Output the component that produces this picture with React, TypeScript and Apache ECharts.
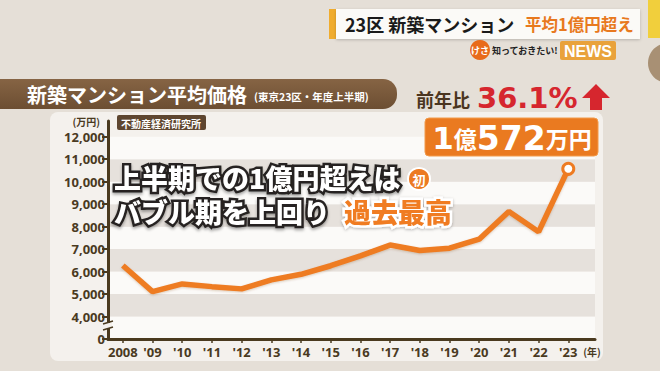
import React, { useEffect, useRef } from 'react';
import * as echarts from 'echarts';

// 新築マンション平均価格（東京23区・年度上半期）, 万円
const years = [2008, 2009, 2010, 2011, 2012, 2013, 2014, 2015, 2016, 2017, 2018, 2019, 2020, 2021, 2022, 2023];
const prices = [6270, 5110, 5450, 5330, 5230, 5630, 5880, 6260, 6700, 7180, 6940, 7040, 7440, 8670, 7768, 10572];
// axis is broken below 4,000: the bottom tick (3000 position) is labelled 0
const yTicks = [3000, 4000, 5000, 6000, 7000, 8000, 9000, 10000, 11000, 12000];
const yBreakValue = 3000;

const CJK = '"Noto Sans CJK JP", "Noto Sans", sans-serif';
const BROWN = '#4a3a1f';
const ORANGE = '#ee7b22';

export default function App() {
  const ref = useRef<HTMLDivElement>(null);
  useEffect(() => {
    document.body.style.margin = '0';
    const chart = echarts.init(ref.current!, null, { renderer: 'svg' });
    const last = years.length - 1;
    const data = years.map((y, i) =>
      i === last
        ? {
            value: [y, prices[i]],
            symbol: 'circle',
            symbolSize: 11,
            itemStyle: { color: '#ffffff', borderColor: ORANGE, borderWidth: 3 },
          }
        : [y, prices[i]]
    );
    const captionWhite = {
      fill: '#ffffff', stroke: '#262320', lineWidth: 5, fontSize: 27, fontWeight: 900, fontFamily: CJK, lineHeight: 34,
      textShadowColor: 'rgba(0,0,0,0.35)', textShadowBlur: 3, textShadowOffsetY: 2,
    };
    const option: any = {
      animation: false,
      backgroundColor: '#e5dfd7',
      grid: { left: 108, right: 65, top: 121, bottom: 32, outerBoundsMode: 'none' },
      xAxis: {
        type: 'value',
        min: 2007.5,
        max: 2023.9,
        splitLine: { show: false },
        axisLine: { show: true, onZero: false, lineStyle: { color: BROWN, width: 3 } },
        axisTick: { show: true, customValues: years, length: 4, lineStyle: { color: BROWN, width: 1.5 } },
        axisLabel: {
          customValues: years,
          color: BROWN,
          fontSize: 13,
          fontWeight: 'bold',
          fontFamily: '"Noto Sans", sans-serif',
          margin: 6,
          formatter: (v: number) => (v === years[0] ? String(v) : "'" + String(v).slice(2)),
        },
        name: '(年)',
        nameLocation: 'end',
        nameGap: -13,
        nameTextStyle: { color: BROWN, fontSize: 10, fontFamily: CJK, fontWeight: 'bold', align: 'left', verticalAlign: 'top', padding: [8, 0, 0, 0] },
      },
      yAxis: {
        type: 'value',
        min: yBreakValue,
        max: 12700,
        interval: 1000,
        splitLine: { show: false },
        splitArea: { show: true, areaStyle: { color: ['#fbfaf8', '#e6e1dc'] } },
        axisLine: { show: true, lineStyle: { color: BROWN, width: 3 } },
        axisTick: { show: true, customValues: yTicks, length: 6, lineStyle: { color: BROWN, width: 2 } },
        axisLabel: {
          customValues: yTicks,
          color: BROWN,
          fontSize: 13,
          fontWeight: 'bold',
          fontFamily: '"Noto Sans", sans-serif',
          margin: 3,
          formatter: (v: number) => (v === yBreakValue ? '0' : v.toLocaleString('en-US')),
        },
        name: '(万円)',
        nameLocation: 'end',
        nameGap: 0,
        nameTextStyle: { color: BROWN, fontSize: 10, fontFamily: CJK, fontWeight: 'bold', align: 'right', verticalAlign: 'middle', padding: [0, 8, 0, 0] },
      },
      series: [
        {
          type: 'line',
          data,
          symbol: 'none',
          showSymbol: true,
          lineStyle: { color: ORANGE, width: 5.5, shadowColor: 'rgba(120,60,0,0.25)', shadowBlur: 2, shadowOffsetY: 1 },
          itemStyle: { color: ORANGE },
          z: 5,
        },
      ],
      graphic: [
        // panel behind chart
        { type: 'rect', z: -10, shape: { x: 50, y: 112, width: 553, height: 249, r: 8 }, style: { fill: '#f4f1ed' } },
        // top header
        { type: 'rect', shape: { x: 329, y: 9, width: 7, height: 30 }, style: { fill: '#f0ac2e' } },
        { type: 'rect', shape: { x: 336, y: 9, width: 304, height: 30 }, style: { fill: '#fbfaf7', shadowColor: 'rgba(0,0,0,0.2)', shadowBlur: 3, shadowOffsetY: 1 } },
        { type: 'text', x: 345, y: 24, style: { text: '23区 新築マンション', fill: '#1a1a1a', font: `bold 18px ${CJK}`, verticalAlign: 'middle' } },
        { type: 'text', x: 525, y: 24, style: { text: '平均1億円超え', fill: '#e8791e', font: `bold 16.5px ${CJK}`, verticalAlign: 'middle' } },
        { type: 'circle', shape: { cx: 480, cy: 50, r: 10 }, style: { fill: '#e86a1a' } },
        { type: 'text', x: 480, y: 50, style: { text: 'けさ', fill: '#fff', font: `bold 9px ${CJK}`, align: 'center', verticalAlign: 'middle' } },
        { type: 'text', x: 492, y: 50, style: { text: '知っておきたい!', fill: '#222', font: `bold 9px ${CJK}`, verticalAlign: 'middle' } },
        { type: 'rect', shape: { x: 560, y: 41, width: 56, height: 19, r: 2 }, style: { fill: '#e9a23b' } },
        { type: 'text', x: 588, y: 51, style: { text: 'NEWS', fill: '#fff', font: `bold 16px "Liberation Sans", sans-serif`, align: 'center', verticalAlign: 'middle' } },
        { type: 'rect', shape: { x: 648, y: 0, width: 12, height: 38 }, style: { fill: '#f1cf3c' } },
        { type: 'circle', shape: { cx: 668, cy: 63, r: 20 }, style: { fill: '#a89074' } },
        // brown title banner
        {
          type: 'rect',
          shape: { x: -10, y: 79, width: 407, height: 30, r: [0, 14, 14, 0] },
          style: {
            fill: new echarts.graphic.LinearGradient(0, 0, 0, 1, [
              { offset: 0, color: '#866444' },
              { offset: 1, color: '#6c4e32' },
            ]),
          },
        },
        { type: 'text', x: 27, y: 94, style: { text: '新築マンション平均価格', fill: '#ffffff', font: `bold 20px ${CJK}`, verticalAlign: 'middle' } },
        { type: 'text', x: 254, y: 96, style: { text: '(東京23区・年度上半期)', fill: '#ffffff', font: `bold 10.5px ${CJK}`, verticalAlign: 'middle' } },
        // source label
        { type: 'rect', z: 10, shape: { x: 117, y: 115, width: 89, height: 15, r: 2 }, style: { fill: '#5e4630' } },
        { type: 'text', z: 11, x: 161, y: 123, style: { text: '不動産経済研究所', fill: '#ffffff', font: `bold 10px ${CJK}`, align: 'center', verticalAlign: 'middle' } },
        // axis break mark
        { type: 'rect', z: 10, shape: { x: 104, y: 323, width: 8, height: 5 }, style: { fill: '#f4f1ed' } },
        { type: 'line', z: 11, shape: { x1: 103, y1: 324, x2: 113, y2: 321 }, style: { stroke: BROWN, lineWidth: 1.5 } },
        { type: 'line', z: 11, shape: { x1: 103, y1: 330, x2: 113, y2: 327 }, style: { stroke: BROWN, lineWidth: 1.5 } },
        // 前年比
        { type: 'text', x: 416, y: 99, style: { text: '前年比', fill: '#4a3520', font: `bold 18px ${CJK}`, verticalAlign: 'middle' } },
        { type: 'text', x: 477, y: 98, style: { text: '36.1%', fill: '#d6262e', font: `bold 29px "DejaVu Sans", sans-serif`, verticalAlign: 'middle' } },
        {
          type: 'polygon',
          shape: { points: [[596, 84], [610, 98], [602, 98], [602, 110], [590, 110], [590, 98], [582, 98]] },
          style: { fill: '#d6262e' },
        },
        // value box
        { type: 'rect', z: 30, shape: { x: 425, y: 118, width: 173, height: 38, r: 4 }, style: { fill: '#ea7a20', stroke: '#f29a4a', lineWidth: 1 } },
        {
          type: 'text',
          z: 31,
          x: 512,
          y: 138,
          style: {
            text: '{a|1}{b|億}{c|572}{b|万円}',
            align: 'center',
            verticalAlign: 'middle',
            fill: '#fff',
            rich: {
              a: { fontSize: 31, fontWeight: 'bold', fontFamily: '"DejaVu Sans", sans-serif', fill: '#fff', color: '#fff' },
              b: { fontSize: 23, fontWeight: 'bold', fontFamily: CJK, fill: '#fff', color: '#fff' },
              c: { fontSize: 33, fontWeight: 'bold', fontFamily: '"DejaVu Sans", sans-serif', fill: '#fff', color: '#fff' },
            },
          },
        },
        // overlay caption (two lines in one text block)
        {
          type: 'text', z: 20, x: 114, y: 194,
          style: {
            text: '{w|上半期での1億円超えは}\n{w|バブル期を上回り}{s|}{o|過去最高}',
            verticalAlign: 'middle',
            align: 'left',
            rich: {
              w: captionWhite,
              s: { width: 14, lineHeight: 34 },
              o: { ...captionWhite, fill: '#f07c20', stroke: '#ffffff', textShadowColor: 'rgba(0,0,0,0.3)', textShadowOffsetY: 1 },
            },
          },
        },
        { type: 'circle', z: 20, shape: { cx: 419, cy: 179, r: 11 }, style: { fill: '#ec7a22', stroke: '#ffffff', lineWidth: 2 } },
        { type: 'text', z: 21, x: 419, y: 179, style: { text: '初', fill: '#ffffff', font: `bold 13px ${CJK}`, align: 'center', verticalAlign: 'middle' } },
      ],
    };
    chart.setOption(option);
    return () => chart.dispose();
  }, []);
  return <div ref={ref} style={{ width: 660, height: 371 }} />;
}
